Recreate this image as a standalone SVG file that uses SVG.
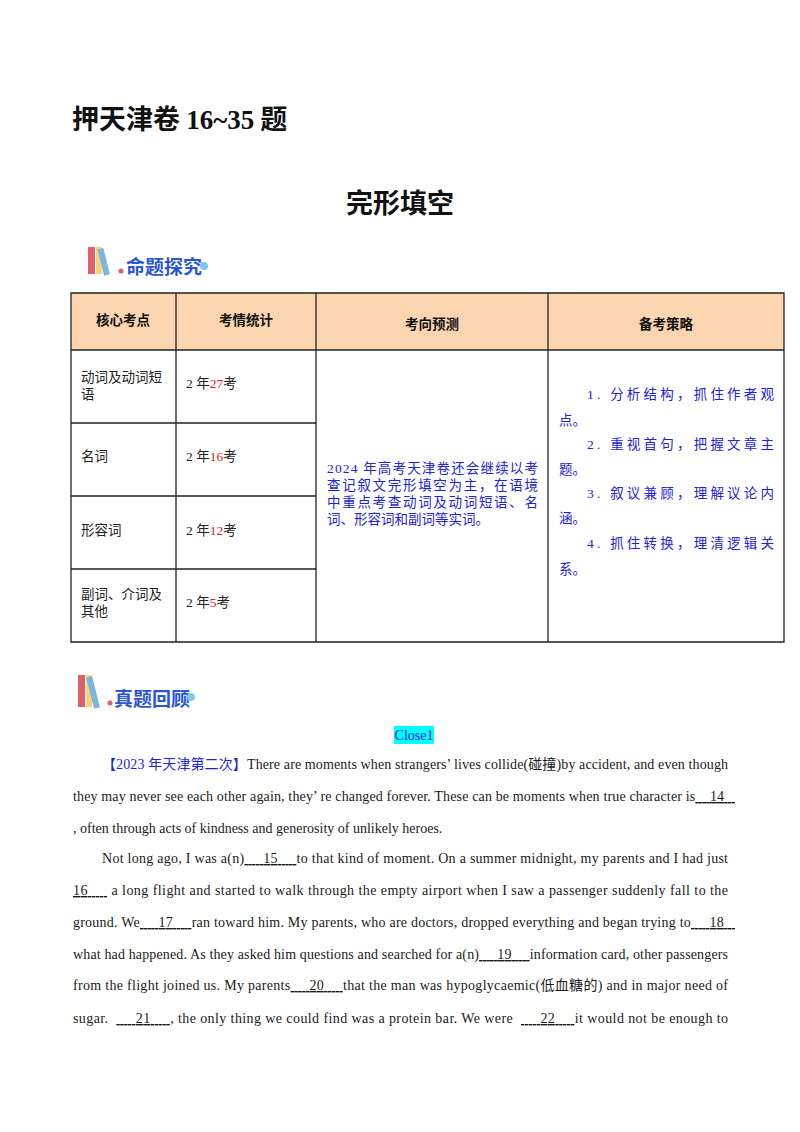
<svg xmlns="http://www.w3.org/2000/svg" width="800" height="1132" viewBox="0 0 800 1132">
<style>
.cn{font-family:"Liberation Serif","Noto Sans CJK SC",serif;}
.h{font-family:"Noto Sans CJK SC",sans-serif;font-weight:bold;}
.b{font-size:14px;fill:#1a1a1a;}
.bl{fill:#2222dd;}
.r{fill:#e02020;}
.u{text-decoration:underline;}
.grid{stroke:#222;stroke-width:1.3;fill:none;}
.sec{font-family:"Noto Sans CJK SC",sans-serif;font-weight:bold;font-size:19px;fill:#2a56d6;}
</style>
<rect width="800" height="1132" fill="#fff"/>
<text x="72" y="129" class="h" font-size="27" fill="#111">押天津卷 <tspan font-family="Liberation Serif">16~35</tspan> 题</text>
<text x="400" y="213" class="h" font-size="27" fill="#111" text-anchor="middle">完形填空</text>
<g id="icon1">
<rect x="88" y="247" width="7" height="27" fill="#e0606a"/><rect x="96" y="247" width="6" height="27" fill="#f2d27a"/>
<rect x="104" y="248" width="6" height="27" fill="#7ab6e0" transform="rotate(-14 107 275)"/>
<circle cx="121" cy="271" r="2.5" fill="#e0606a"/>
<text x="126" y="274" class="sec">命题探究</text><circle cx="204" cy="266" r="4" fill="#7ec8f0"/>
</g>
<g id="table">
<rect x="71" y="293" width="713" height="57" fill="#fbd5b0"/>
<path class="grid" d="M71 293H784V642H71Z M71 350H784 M71 423H316 M71 496H316 M71 569H316 M176 293V642 M316 293V642 M548 293V642"/>
<g class="h" font-size="13.5" fill="#111" text-anchor="middle">
<text x="123" y="325">核心考点</text><text x="246" y="325">考情统计</text><text x="432" y="329">考向预测</text><text x="666" y="329">备考策略</text>
</g>
<g class="cn" font-size="13.5" fill="#222">
<text x="81" y="382">动词及动词短</text><text x="81" y="399">语</text>
<text x="81" y="461">名词</text>
<text x="81" y="535">形容词</text>
<text x="81" y="599">副词、介词及</text><text x="81" y="616">其他</text>
<text x="186" y="388">2 年<tspan class="r">27</tspan>考</text>
<text x="186" y="461">2 年<tspan class="r">16</tspan>考</text>
<text x="186" y="535">2 年<tspan class="r">12</tspan>考</text>
<text x="186" y="607">2 年<tspan class="r">5</tspan>考</text>
</g>
<g class="cn bl" font-size="13.5">
<text x="327" y="473" textLength="211" lengthAdjust="spacing">2024 年高考天津卷还会继续以考</text>
<text x="327" y="490" textLength="211" lengthAdjust="spacing">查记叙文完形填空为主，在语境</text>
<text x="327" y="507" textLength="211" lengthAdjust="spacing">中重点考查动词及动词短语、名</text>
<text x="327" y="524">词、形容词和副词等实词。</text>
<text x="587" y="399" textLength="187" lengthAdjust="spacing">1. 分析结构，抓住作者观</text>
<text x="559" y="425">点。</text>
<text x="587" y="449" textLength="187" lengthAdjust="spacing">2. 重视首句，把握文章主</text>
<text x="559" y="474">题。</text>
<text x="587" y="498" textLength="187" lengthAdjust="spacing">3. 叙议兼顾，理解议论内</text>
<text x="559" y="523">涵。</text>
<text x="587" y="548" textLength="187" lengthAdjust="spacing">4. 抓住转换，理清逻辑关</text>
<text x="559" y="574">系。</text>
</g>
</g>
<g id="icon2">
<rect x="78" y="675" width="7" height="32" fill="#e0606a"/><rect x="86" y="675" width="6" height="32" fill="#f2d27a"/>
<rect x="94" y="676" width="6" height="32" fill="#7ab6e0" transform="rotate(-14 97 708)"/>
<circle cx="110" cy="703" r="2.5" fill="#e0606a"/>
<text x="114" y="706" class="sec">真题回顾</text><circle cx="191" cy="697" r="4" fill="#7ec8f0"/>
</g>
<rect x="394" y="726" width="40" height="18" fill="#00ffff"/>
<text x="414" y="740" class="cn bl" font-size="14" text-anchor="middle">Close1</text>
<g class="cn b">
<text x="102" y="769" textLength="626" lengthAdjust="spacing"><tspan class="bl">【2023 年天津第二次】</tspan>There are moments when strangers’ lives collide(碰撞)by accident, and even though</text>
<text x="73" y="801" textLength="662" lengthAdjust="spacing">they may never see each other again, they’ re changed forever. These can be moments when true character is<tspan class="u">&#160;&#160;&#160;&#160;14&#160;&#160;&#160;</tspan></text>
<text x="73" y="833">, often through acts of kindness and generosity of unlikely heroes.</text>
<text x="102" y="863" textLength="626" lengthAdjust="spacing">Not long ago, I was a(n)<tspan class="u">&#160;&#160;&#160;&#160;&#160;15&#160;&#160;&#160;&#160;&#160;</tspan>to that kind of moment. On a summer midnight, my parents and I had just</text>
<text x="73" y="895" textLength="655" lengthAdjust="spacing"><tspan class="u">16&#160;&#160;&#160;&#160;&#160;</tspan>&#160;a long flight and started to walk through the empty airport when I saw a passenger suddenly fall to the</text>
<text x="73" y="927" textLength="662" lengthAdjust="spacing">ground. We<tspan class="u">&#160;&#160;&#160;&#160;&#160;17&#160;&#160;&#160;&#160;&#160;</tspan>ran toward him. My parents, who are doctors, dropped everything and began trying to<tspan class="u">&#160;&#160;&#160;&#160;&#160;18&#160;&#160;&#160;</tspan></text>
<text x="73" y="959" textLength="655" lengthAdjust="spacing">what had happened. As they asked him questions and searched for a(n)<tspan class="u">&#160;&#160;&#160;&#160;&#160;19&#160;&#160;&#160;&#160;&#160;</tspan>information card, other passengers</text>
<text x="73" y="990" textLength="655" lengthAdjust="spacing">from the flight joined us. My parents<tspan class="u">&#160;&#160;&#160;&#160;&#160;20&#160;&#160;&#160;&#160;&#160;</tspan>that the man was hypoglycaemic(低血糖的) and in major need of</text>
<text x="73" y="1023" textLength="655" lengthAdjust="spacing">sugar.&#160;&#160;<tspan class="u">&#160;&#160;&#160;&#160;&#160;21&#160;&#160;&#160;&#160;&#160;</tspan>, the only thing we could find was a protein bar. We were&#160;&#160;<tspan class="u">&#160;&#160;&#160;&#160;&#160;22&#160;&#160;&#160;&#160;&#160;</tspan>it would not be enough to</text>
</g>
</svg>
